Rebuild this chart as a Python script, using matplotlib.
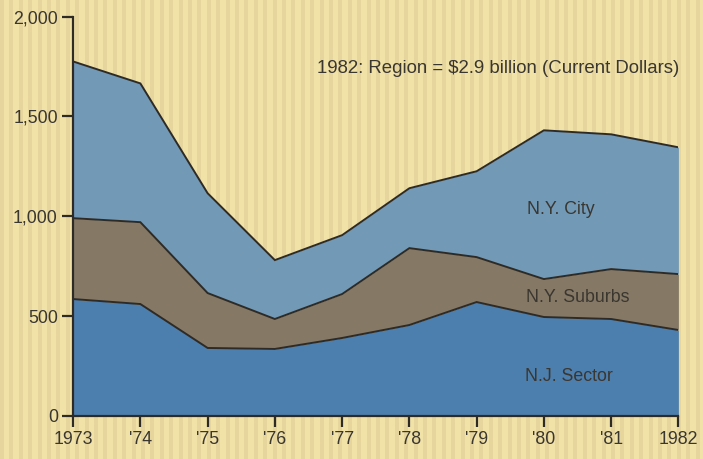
import numpy as np
import matplotlib
matplotlib.use('Agg')
import matplotlib.pyplot as plt
from matplotlib.patches import Rectangle

years = [1973, 1974, 1975, 1976, 1977, 1978, 1979, 1980, 1981, 1982]
year_labels = ['1973', "'74", "'75", "'76", "'77", "'78", "'79", "'80", "'81", '1982']
nj_sector = [585, 560, 340, 335, 390, 455, 570, 495, 485, 430]
ny_suburbs = [405, 410, 275, 150, 220, 385, 225, 190, 250, 280]
ny_city = [785, 695, 500, 295, 295, 300, 430, 745, 675, 635]
y_ticks = [0, 500, 1000, 1500, 2000]
y_tick_labels = ['0', '500', '1,000', '1,500', '2,000']

plt.rcParams['font.family'] = ['Liberation Sans', 'DejaVu Sans']

bg = '#f1e2a8'
stripe = '#e6d59c'
line_col = '#2e2b26'
text_col = '#3a3630'

fig = plt.figure(figsize=(7.03, 4.59), dpi=100, facecolor=bg)

# faint vertical stripes of the paper background, kept behind the axes
for x in np.arange(0, 703, 9.4):
    fig.patches.append(Rectangle((x / 703, 0), 4 / 703, 1, transform=fig.transFigure,
                                 facecolor=stripe, edgecolor='none', zorder=-10))

ax = fig.add_axes([0.104, 0.094, 0.861, 0.870])
ax.set_facecolor('none')
ax.set_zorder(5)

lower = np.array(nj_sector)
middle = lower + np.array(ny_suburbs)
top = middle + np.array(ny_city)
zeros = np.zeros(len(years))

ax.fill_between(years, zeros, lower, color='#4d7fae', lw=0, zorder=2)
ax.fill_between(years, lower, middle, color='#857966', lw=0, zorder=2)
ax.fill_between(years, middle, top, color='#7299b6', lw=0, zorder=2)
for edge in (lower, middle, top):
    ax.plot(years, edge, color=line_col, lw=1.4, zorder=3, solid_joinstyle='miter')

ax.set_xlim(1973, 1982)
ax.set_ylim(0, 2000)
ax.set_xticks(years)
ax.set_xticklabels(year_labels)
ax.set_yticks(y_ticks)
ax.set_yticklabels(y_tick_labels)

for side in ('top', 'right'):
    ax.spines[side].set_visible(False)
for side in ('left', 'bottom'):
    ax.spines[side].set_color(line_col)
    ax.spines[side].set_linewidth(1.6)
    ax.spines[side].set_zorder(4)
ax.tick_params(axis='both', direction='out', length=8, width=1.6, color=line_col,
               labelcolor=text_col, labelsize=12.8, pad=3)

fs = 12.8
ax.text(1976.62, 1740, '1982: Region = $2.9 billion (Current Dollars)', ha='left', va='center',
        fontsize=13.4, color=text_col)
ax.text(1980.25, 1035, 'N.Y. City', ha='center', va='center', fontsize=fs, color=text_col)
ax.text(1980.5, 595, 'N.Y. Suburbs', ha='center', va='center', fontsize=fs, color=text_col)
ax.text(1980.37, 195, 'N.J. Sector', ha='center', va='center', fontsize=fs, color=text_col)

fig.savefig('out.png', dpi=100, facecolor=bg)
